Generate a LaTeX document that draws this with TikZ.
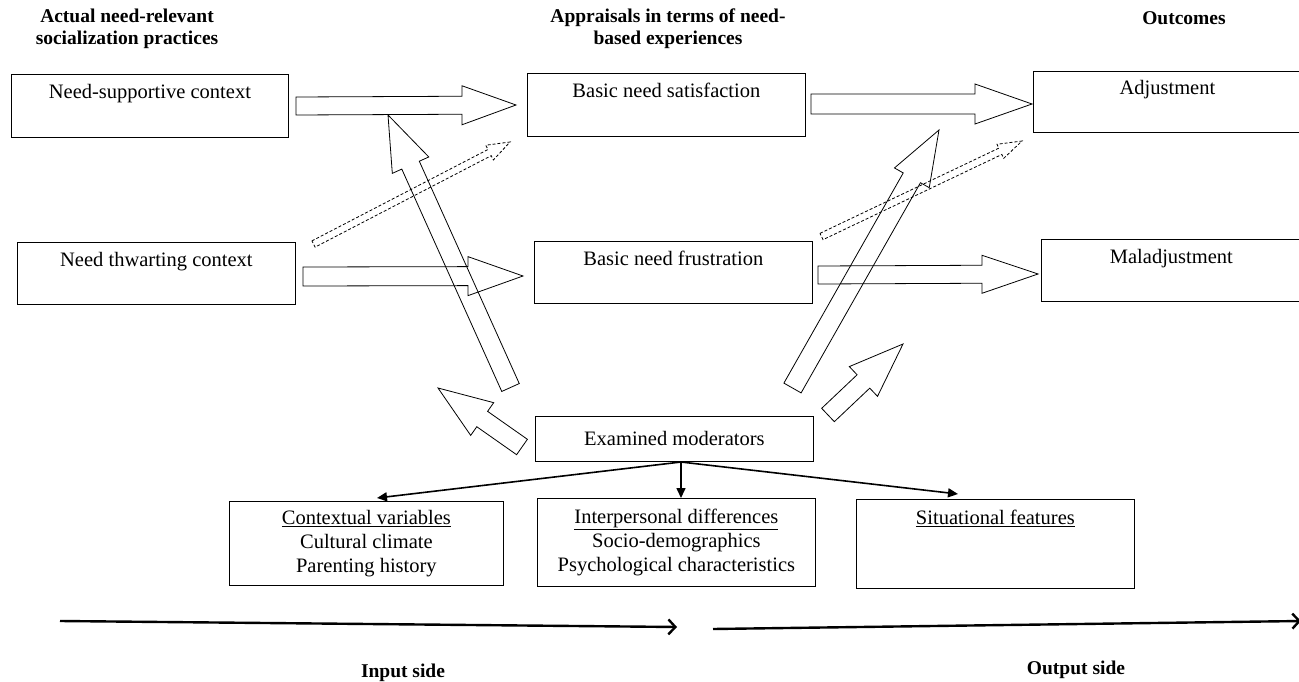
\documentclass[tikz,border=0pt]{standalone}
\usepackage{fontspec}
\setmainfont{Liberation Serif}
\usetikzlibrary{calc,arrows.meta}
% #2 tail centre, #3 tip, #4 half shaft width, #5 half head width, #6 head length
\newcommand\blockarrow[6][]{%
  \coordinate (ba-h) at ($(#3)!#6!(#2)$);
  \draw[barrow,#1] ($(#2)!#4!90:(#3)$) -- ($(ba-h)!#4!90:(#3)$) -- ($(ba-h)!#5!90:(#3)$)
    -- (#3) -- ($(ba-h)!#5!-90:(#3)$) -- ($(ba-h)!#4!-90:(#3)$) -- ($(#2)!#4!-90:(#3)$) -- cycle;
}
\tikzset{
  box/.style={draw, line width=0.8pt, inner sep=0pt, align=center, anchor=north west,
    font=\fontsize{20.5}{24}\selectfont},
  head/.style={align=center, font=\fontsize{19.5}{22}\selectfont\bfseries},
  barrow/.style={draw, line width=0.8pt, line join=miter},
  dashedarrow/.style={dashed, dash pattern=on 3pt off 2pt},
  conn/.style={line width=1.6pt, -{Triangle[length=10pt,width=9pt]}},
  side/.style={line width=2.4pt, -{Straight Barb[length=7pt,width=15pt,line width=2.4pt]}},
}
\begin{document}
\begin{tikzpicture}[x=1pt,y=-1pt]
\useasboundingbox (0,0) rectangle (1299,682);

% headers
\node[head] (h1) at (127,29) {Actual need-relevant\\socialization practices};
\node[head] (h2) at (668,29) {Appraisals in terms of need-\\based experiences};
\node[head] (h3) at (1184,18) {Outcomes};

% boxes
\node[box, minimum width=277pt, minimum height=63pt] (nsc) at (11,74) {\strut Need-supportive context\\ \strut};
\node[box, minimum width=278pt, minimum height=62pt] (ntc) at (17,242) {\strut Need thwarting context\\ \strut};
\node[box, minimum width=278pt, minimum height=63pt] (bns) at (527,73) {\strut Basic need satisfaction\\ \strut};
\node[box, minimum width=278pt, minimum height=62pt] (bnf) at (534,241) {\strut Basic need frustration\\ \strut};
\node[box, minimum width=268pt, minimum height=61pt] (adj) at (1033,71) {\strut Adjustment\\ \strut};
\node[box, minimum width=260pt, minimum height=62pt] (mal) at (1041,239) {\strut Maladjustment\\ \strut};
\node[box, minimum width=278pt, minimum height=45pt] (mod) at (535,416) {Examined moderators};
\node[box, minimum width=274pt, minimum height=84pt] (ctx) at (229,501) {\strut\underline{Contextual variables}\\ \strut Cultural climate\\ \strut Parenting history};
\node[box, minimum width=278pt, minimum height=88pt] (ipd) at (537,498) {\strut\underline{Interpersonal differences}\\ \strut Socio-demographics\\ \strut Psychological characteristics};
\node[box, minimum width=278pt, minimum height=89pt] (sit) at (856,499) {\strut\underline{Situational features}\\ \strut\\ \strut};

% block arrows: horizontal
\coordinate (a1t) at (296,106);  \coordinate (a1h) at (516,105);
\coordinate (a2t) at (303,276.5);\coordinate (a2h) at (523,276);
\coordinate (a3t) at (811,104);  \coordinate (a3h) at (1032,104);
\coordinate (a4t) at (818,275);  \coordinate (a4h) at (1038,274);
\blockarrow{a1t}{a1h}{9pt}{19.5pt}{54pt}
\blockarrow{a2t}{a2h}{9.5pt}{19.5pt}{55pt}
\blockarrow{a3t}{a3h}{10pt}{20pt}{57pt}
\blockarrow{a4t}{a4h}{9pt}{19pt}{56pt}

% long diagonal arrows
\coordinate (d1t) at (510.5,387.5); \coordinate (d1h) at (388,115);
\coordinate (d2t) at (792.5,388);   \coordinate (d2h) at (939,130);
\blockarrow{d1t}{d1h}{9.6pt}{20pt}{55pt}
\blockarrow{d2t}{d2h}{9.9pt}{20pt}{55pt}

% dashed arrows
\coordinate (e1t) at (313.5,244); \coordinate (e1h) at (510,142);
\coordinate (e2t) at (821.5,236.5); \coordinate (e2h) at (1022,141);
\blockarrow[dashedarrow]{e1t}{e1h}{3.5pt}{8.3pt}{23pt}
\blockarrow[dashedarrow]{e2t}{e2h}{3.5pt}{7.8pt}{24pt}

% short arrows
\coordinate (s1t) at (522,447); \coordinate (s1h) at (438,388);
\coordinate (s2t) at (828,415); \coordinate (s2h) at (903,344);
\blockarrow{s1t}{s1h}{9.4pt}{20pt}{54pt}
\blockarrow{s2t}{s2h}{9.2pt}{20.5pt}{54.5pt}

% connectors to moderator categories
\coordinate (split) at (681,462);
\coordinate (c1) at (377,498);
\coordinate (c2) at (681,498);
\coordinate (c3) at (958,494);
\draw[conn] (split) -- (c1);
\draw[conn] (split) -- (c2);
\draw[conn] (split) -- (c3);

% input / output side
\coordinate (i1) at (60,621); \coordinate (i2) at (677,627);
\coordinate (o1) at (713,629); \coordinate (o2) at (1301,621);
\draw[side] (i1) -- (i2);
\draw[side] (o1) -- (o2);
\node[head] (ins) at (403,673) {Input side};
\node[head] (outs) at (1076,670) {Output side};
\end{tikzpicture}
\end{document}
